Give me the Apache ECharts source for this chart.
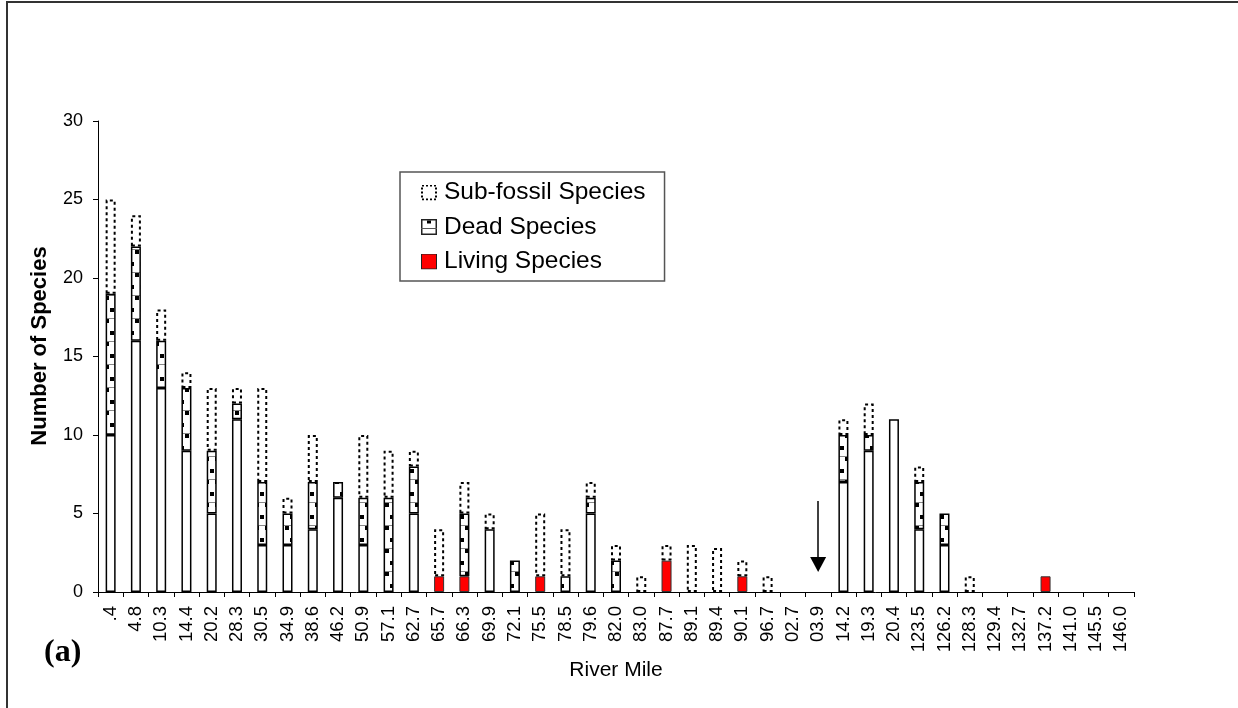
<!DOCTYPE html>
<html><head><meta charset="utf-8">
<script src="https://cdn.jsdelivr.net/npm/echarts@6/dist/echarts.min.js"></script>
<style>html,body{margin:0;padding:0;background:#fff}#c{width:1238px;height:708px}</style>
</head><body><div id="c"></div>
<script>
const categories = [".4","4.8","10.3","14.4","20.2","28.3","30.5","34.9","38.6","46.2","50.9","57.1","62.7","65.7","66.3","69.9","72.1","75.5","78.5","79.6","82.0","83.0","87.7","89.1","89.4","90.1","96.7","02.7","03.9","14.2","19.3","20.4","123.5","126.2","128.3","129.4","132.7","137.2","141.0","145.5","146.0"];
const living    = [0,0,0,0,0,0,0,0,0,0,0,0,0,1,1,0,0,1,0,0,0,0,2,0,0,1,0,0,0,0,0,0,0,0,0,0,0,1,0,0,0];
const baseWhite = [10,16,13,9,5,11,3,3,4,6,3,0,5,0,0,4,0,0,0,5,0,0,0,0,0,0,0,0,0,7,9,11,4,3,0,0,0,0,0,0,0];
const dead      = [9,6,3,4,4,1,4,2,3,1,3,6,3,0,4,0,2,0,1,1,2,0,0,0,0,0,0,0,0,3,1,0,3,2,0,0,0,0,0,0,0];
const subFossil = [6,2,2,1,4,1,6,1,3,0,4,3,1,3,2,1,0,4,3,1,1,1,1,3,2.8,1,1,0,0,1,2,0,1,0,1,0,0,0,0,0,0];
const arrowCategory = "03.9";
const arrowValues = [5.8, 1.75];

const FONT = '"Liberation Sans", Arial, sans-serif';
const nz = a => a.map(v => v === 0 ? '-' : v);

function makeDeadPattern(){
  const c = document.createElement('canvas');
  c.width = 10; c.height = 23;
  const g = c.getContext('2d');
  g.fillStyle = '#fff'; g.fillRect(0,0,10,23);
  g.fillStyle = '#888'; g.fillRect(0,19,10,1);
  g.fillStyle = '#000';
  g.fillRect(0,9,4,4);
  g.fillRect(5,20,4,3); g.fillRect(5,0,4,1);
  return c;
}
const svgIcon = s => 'image://data:image/svg+xml;utf8,' + encodeURIComponent("<svg xmlns='http://www.w3.org/2000/svg' width='16' height='16'>" + s + "</svg>");
const subIcon = svgIcon("<rect x='1' y='1' width='14' height='14' fill='white' stroke='black' stroke-width='2' stroke-dasharray='2,2'/>");
const deadIcon = svgIcon("<rect x='0.75' y='0.75' width='14.5' height='14.5' fill='white' stroke='#222' stroke-width='1.5'/><line x1='0' y1='9.5' x2='16' y2='9.5' stroke='#555'/><rect x='6' y='1.5' width='4' height='3' fill='black'/>");
const liveIcon = svgIcon("<rect x='0.5' y='0.5' width='15' height='15' fill='red' stroke='#222'/>");

const chart = echarts.init(document.getElementById('c'), null, {renderer:'canvas'});
const barW = 10;
chart.setOption({
  animation:false,
  backgroundColor:'#fff',
  textStyle:{fontFamily:FONT},
  grid:{left:98, right:104, top:121, bottom:116, containLabel:false},
  legend:{
    orient:'vertical', left:400, top:172, selectedMode:false,
    padding:[8,19,7,21], itemGap:9.5, itemWidth:16, itemHeight:16,
    borderColor:'#555', borderWidth:1.5, backgroundColor:'#fff',
    textStyle:{fontSize:24.5, color:'#000', fontFamily:FONT, padding:[0,0,0,2]},
    data:[
      {name:'Sub-fossil Species', icon:subIcon},
      {name:'Dead Species', icon:deadIcon},
      {name:'Living Species', icon:liveIcon}
    ]
  },
  xAxis:{
    type:'category', data:categories, boundaryGap:true,
    name:'River Mile', nameLocation:'middle', nameGap:64,
    nameTextStyle:{fontSize:21, color:'#000', fontFamily:FONT},
    axisLine:{lineStyle:{color:'#000', width:1}},
    axisTick:{show:true, interval:0, length:5, lineStyle:{color:'#000'}},
    axisLabel:{interval:0, rotate:90, fontSize:18.5, color:'#000', margin:14, fontFamily:FONT},
    splitLine:{show:false}
  },
  yAxis:{
    type:'value', min:0, max:30, interval:5,
    axisLine:{show:true, lineStyle:{color:'#000', width:1}},
    axisTick:{show:true, length:5, lineStyle:{color:'#000'}},
    axisLabel:{fontSize:18, color:'#000', margin:15, fontFamily:FONT},
    splitLine:{show:false}
  },
  series:[
    {name:'Living Species', type:'bar', stack:'s', barWidth:barW, data:nz(living),
     itemStyle:{color:'#ff0000', borderColor:'#333', borderWidth:1}},
    {name:'Base', type:'bar', stack:'s', barWidth:barW, data:nz(baseWhite),
     itemStyle:{color:'#fff', borderColor:'#000', borderWidth:1.5}},
    {name:'Dead Species', type:'bar', stack:'s', barWidth:barW, data:nz(dead),
     itemStyle:{color:{image:makeDeadPattern(), repeat:'repeat'}, borderColor:'#000', borderWidth:1.5}},
    {name:'Sub-fossil Species', type:'bar', stack:'s', barWidth:barW, data:nz(subFossil),
     itemStyle:{color:'rgba(255,255,255,0)', borderColor:'#000', borderWidth:2, borderType:[3,3]},
     markLine:{silent:true, symbol:['none','triangle'], symbolSize:[16,15],
       lineStyle:{color:'#000', width:1.5, type:'solid'}, label:{show:false},
       data:[[{coord:[arrowCategory, arrowValues[0]]},{coord:[arrowCategory, arrowValues[1]]}]]}}
  ],
  graphic:[
    {type:'rect', shape:{x:7, y:2, width:1240, height:720}, style:{fill:'none', stroke:'#333', lineWidth:2}, silent:true},
    {type:'text', x:40, y:346, rotation:Math.PI/2, style:{text:'Number of Species', font:'bold 22px "Liberation Sans", Arial, sans-serif', fill:'#000', textAlign:'center', textVerticalAlign:'middle'}},
    {type:'text', x:44, y:653, style:{text:'(a)', font:'bold 32px "Liberation Serif", "Times New Roman", serif', fill:'#000', textVerticalAlign:'middle'}}
  ]
});
</script></body></html>
